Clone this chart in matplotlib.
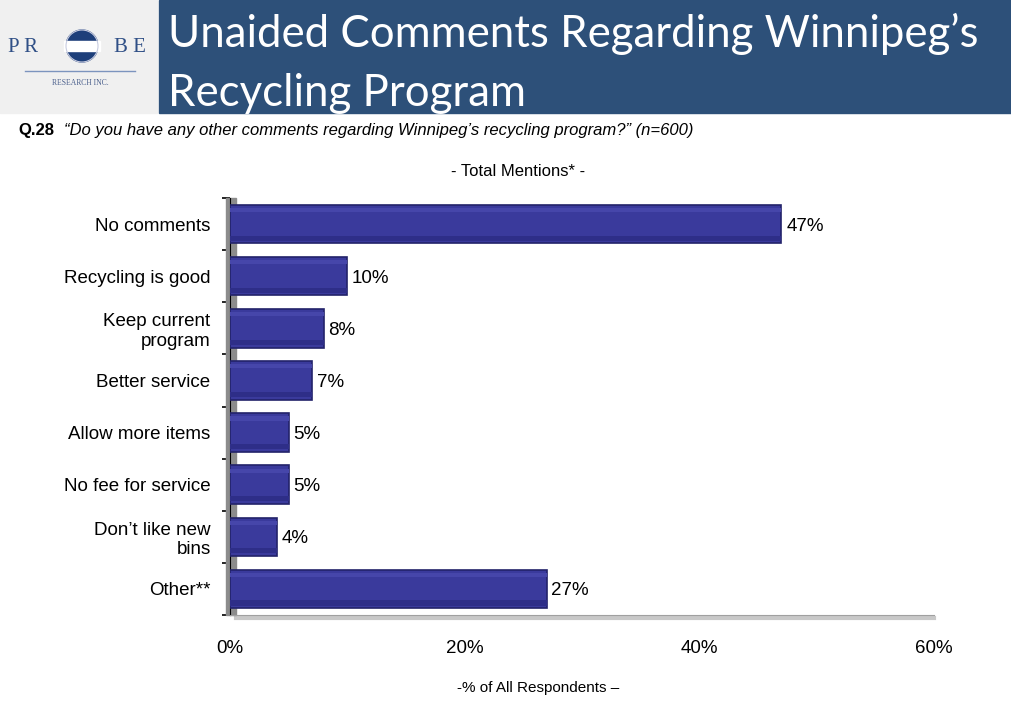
import numpy as np
import matplotlib.pyplot as plt
from matplotlib.patches import Rectangle, Circle

plt.rcParams['font.family'] = ['Liberation Sans', 'DejaVu Sans']

categories = ["No comments", "Recycling is good", "Keep current\nprogram", "Better service",
              "Allow more items", "No fee for service", "Don\u2019t like new\nbins", "Other**"]
values = [47, 10, 8, 7, 5, 5, 4, 27]
xticks = [0, 20, 40, 60]

fig = plt.figure(figsize=(10.11, 7.02), dpi=100)

# header: logo panel and title bar
fig.patches.append(Rectangle((0, 1 - 113 / 702), 157 / 1011, 113 / 702, transform=fig.transFigure,
                             color="#F0F0F0", zorder=-5))
fig.patches.append(Rectangle((159 / 1011, 1 - 113 / 702), 1 - 159 / 1011, 113 / 702,
                             transform=fig.transFigure, color="#2D5079", zorder=-5))
fig.text(168 / 1011, 1 - 34 / 702, "Unaided Comments Regarding Winnipeg\u2019s", color="white",
         fontsize=31.5, family="Lato", va="center")
fig.text(168 / 1011, 1 - 93 / 702, "Recycling Program", color="white",
         fontsize=31.5, family="Lato", va="center")

# logo
logo = fig.add_axes([0, 1 - 113 / 702, 157 / 1011, 113 / 702], zorder=5)
logo.set_xlim(0, 157)
logo.set_ylim(113, 0)
logo.set_aspect("equal")
logo.axis("off")
logo.text(8, 47, "P R", family="Liberation Serif", fontsize=15, color="#2F4F86", va="center")
logo.text(114, 47, "B E", family="Liberation Serif", fontsize=15, color="#2F4F86", va="center")
logo.add_patch(Circle((82, 46), 16, color="#1E3F7A"))
logo.add_patch(Rectangle((64, 41), 36, 10, color="white"))
logo.add_patch(Circle((82, 46), 16, fill=False, ec="#C8CCE0", lw=0.8))
logo.plot([25, 135], [71, 71], color="#7C94BE", lw=1)
logo.text(80, 83, "RESEARCH INC.", family="Liberation Serif", fontsize=5.5, color="#4A5F8C",
          ha="center", va="center")

fig.text(18 / 1011, 1 - 131 / 702, "Q.28", fontsize=12, weight="bold", va="center")
fig.text(64 / 1011, 1 - 131 / 702,
         "\u201cDo you have any other comments regarding Winnipeg\u2019s recycling program?\u201d (n=600)",
         fontsize=12, style="italic", va="center")
fig.text(518 / 1011, 1 - 172 / 702, "- Total Mentions* -", fontsize=12, ha="center", va="center")
fig.text(538 / 1011, 1 - 688 / 702, "-% of All Respondents \u2013", fontsize=11, ha="center", va="center")

ax = fig.add_axes([230 / 1011, 1 - 615 / 702, 704 / 1011, 417 / 702])
y = np.arange(len(categories))
ax.barh(y, values, height=0.74, color="#3A3A9C", edgecolor="#23236A", lw=1.2, zorder=3)
ax.barh(y - 0.27, values, height=0.08, color="#4646AA", lw=0, zorder=4)
ax.barh(y + 0.27, values, height=0.1, color="#2E2E88", lw=0, zorder=4)
for yi, v in zip(y, values):
    ax.text(v + 0.4, yi, f"{v}%", fontsize=13.5, va="center_baseline", ha="left")

ax.set_xlim(0, 60)
ax.set_ylim(len(categories) - 0.5, -0.5)
ax.set_xticks(xticks)
ax.set_xticklabels([f"{t}%" for t in xticks], fontsize=13.5)
ax.tick_params(axis="x", length=0, pad=18)
ax.set_yticks(np.arange(len(categories) + 1) - 0.5, minor=True)
ax.set_yticks(y)
ax.set_yticklabels(categories, fontsize=13.5)
ax.tick_params(axis="y", which="major", length=0, pad=14)
ax.tick_params(axis="y", which="minor", length=6, width=1.2, direction="out", color="black")
for s in ["top", "right"]:
    ax.spines[s].set_visible(False)
ax.spines["left"].set_color("black")
ax.spines["bottom"].set_color("#A0A0A0")

# 3D wall on the left
ax.add_patch(Rectangle((-0.35, -0.5), 0.9, len(categories), color="#8C8C8C", zorder=2, clip_on=False))
ax.plot([0.5, 60], [len(categories) - 0.45] * 2, color="#C8C8C8", lw=3, zorder=1, clip_on=False)

fig.savefig("out.png", dpi=100)
